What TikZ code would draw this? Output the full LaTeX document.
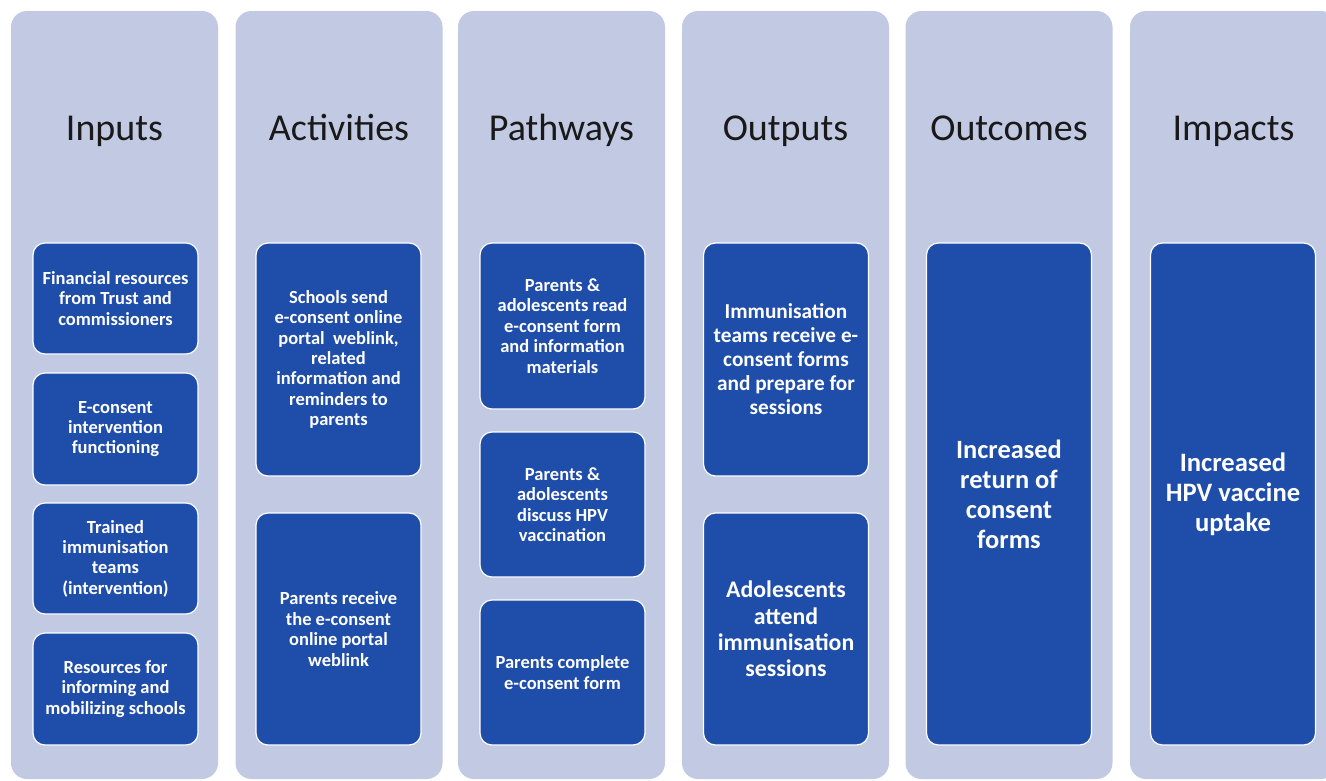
\documentclass[tikz,border=0pt]{standalone}
\usepackage{fontspec}
\setmainfont{Carlito}
\definecolor{colfill}{HTML}{C2C9E3}
\definecolor{cardfill}{HTML}{1F4DAA}
\tikzset{
  column/.style={rectangle, rounded corners=16pt, fill=colfill, minimum width=207pt, minimum height=768pt},
  head/.style={anchor=base, font=\fontsize{38}{40}\selectfont, text=black!90},
  card/.style={rectangle, rounded corners=12pt, fill=cardfill, draw=white, line width=1.2pt,
    text=white, align=center, minimum width=165pt, font=\fontsize{18.5}{20.4}\selectfont\bfseries},
}

\begin{document}
\begin{tikzpicture}[x=1pt,y=-1pt]
\useasboundingbox (0,0) rectangle (1326,780);
\clip (0,0) rectangle (1326,780);
\foreach \cx/\name/\title in {114.5/inp/Inputs, 339/act/Activities, 561.5/pat/Pathways,
    785.5/out/Outputs, 1009/occ/Outcomes, 1233.5/imp/Impacts} {
  \node[column] (\name) at (\cx,395) {};
  \node[head] (\name-title) at (\cx,140) {\title};
}
% inputs
\node[card, minimum height=111pt] (inp1) at (115.5,298.5) {Financial resources\\from Trust and\\commissioners};
\node[card, minimum height=112pt] (inp2) at (115.5,429) {E-consent\\intervention\\functioning};
\node[card, minimum height=111pt] (inp3) at (115.5,558.5) {Trained\\immunisation\\teams\\(intervention)};
\node[card, minimum height=112pt] (inp4) at (115.5,689) {Resources for\\informing and\\mobilizing schools};
% activities
\node[card, minimum height=233pt] (act1) at (338.5,359.5) {Schools send\\e-consent online\\portal\ \ weblink,\\related\\information and\\reminders to\\parents};
\node[card, minimum height=232pt] (act2) at (338.5,629) {Parents receive\\the e-consent\\online portal\\weblink};
% pathways
\node[card, minimum height=166pt] (pat1) at (562.5,326) {Parents \&\\adolescents read\\e-consent form\\and information\\materials};
\node[card, minimum height=145pt] (pat2) at (562.5,504.5) {Parents \&\\adolescents\\discuss HPV\\vaccination};
\node[card, minimum height=145pt] (pat3) at (562.5,672.5) {Parents complete\\e-consent form};
% outputs
\node[card, minimum height=233pt, font=\fontsize{21.3}{24}\selectfont\bfseries] (out1) at (786,359.5) {Immunisation\\teams receive e-\\consent forms\\and prepare for\\sessions};
\node[card, minimum height=232pt, font=\fontsize{23.8}{26.2}\selectfont\bfseries] (out2) at (786,629) {Adolescents\\attend\\immunisation\\sessions};
% outcomes and impacts
\node[card, minimum height=502pt, font=\fontsize{26.4}{30}\selectfont\bfseries] (occ1) at (1009,494) {Increased\\return of\\consent\\forms};
\node[card, minimum height=502pt, font=\fontsize{26.6}{30}\selectfont\bfseries] (imp1) at (1233,494) {Increased\\HPV vaccine\\uptake};
\end{tikzpicture}
\end{document}
